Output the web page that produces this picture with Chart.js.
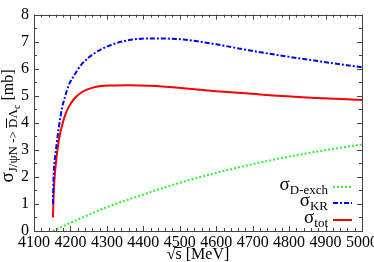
<!DOCTYPE html>
<html>
<head>
<meta charset="utf-8">
<script src="https://cdn.jsdelivr.net/npm/chart.js@4.4.0/dist/chart.umd.min.js"></script>
<style>
  html, body { margin: 0; padding: 0; background: #fff; }
  #wrap { width: 374px; height: 262px; }
</style>
</head>
<body>
<div id="wrap"><canvas id="chart" width="374" height="262"></canvas></div>
<script>
/* valores */
const sqrtS = [4152, 4154, 4159, 4168, 4177, 4186, 4195, 4210, 4230, 4268, 4314, 4359, 4420, 4510, 4600, 4690, 4780, 4875, 5000];
const sigmaKR = [1.0, 2.1, 2.85, 3.82, 4.54, 5.0, 5.38, 5.75, 6.15, 6.59, 6.89, 7.05, 7.12, 7.08, 6.9, 6.68, 6.48, 6.29, 6.05];
const sigmaTot = [0.5, 1.4, 2.37, 3.34, 3.9, 4.3, 4.58, 4.88, 5.12, 5.32, 5.38, 5.39, 5.37, 5.28, 5.17, 5.08, 4.99, 4.92, 4.84];
const sqrtSDexch = [4152, 4200, 4300, 4400, 4500, 4600, 4700, 4800, 4900, 5000];
const sigmaDexch = [0, 0.3, 0.88, 1.35, 1.78, 2.15, 2.47, 2.75, 2.99, 3.2];

const xTicks = [4100, 4200, 4300, 4400, 4500, 4600, 4700, 4800, 4900, 5000];
const yTicks = [0, 1, 2, 3, 4, 5, 6, 7, 8];

const serif = "'Liberation Serif', 'DejaVu Serif', serif";

function pontos(xs, ys) { // monta {x,y}
  return xs.map((v, i) => ({ x: v, y: ys[i] }));
}

const data = {
  datasets: [
    {
      label: "D-exch",
      data: pontos(sqrtSDexch, sigmaDexch),
      borderColor: "#33ee33",
      borderWidth: 2,
      borderDash: [2, 2],
    },
    {
      label: "KR",
      data: pontos(sqrtS, sigmaKR),
      borderColor: "#0000ff",
      borderWidth: 2,
      borderDash: [5, 2, 2, 2],
    },
    {
      label: "tot",
      data: pontos(sqrtS, sigmaTot),
      borderColor: "#ff0000",
      borderWidth: 2,
    },
  ],
};

/* desenha moldura, ticks, titulos e legenda */
const moldura = {
  id: "moldura",
  afterDraw(chart) {
    const ctx = chart.ctx;
    const a = chart.chartArea;
    const x = chart.scales.x, y = chart.scales.y;
    ctx.save();
    ctx.strokeStyle = "#444";
    ctx.lineWidth = 1;
    ctx.strokeRect(Math.round(a.left) + 0.5, Math.round(a.top) + 0.5, Math.round(a.right - a.left), Math.round(a.bottom - a.top));

    ctx.beginPath();
    for (let v = 4100; v <= 5000; v += 20) { // ticks do eixo x
      const px = Math.round(x.getPixelForValue(v)) + 0.5;
      const len = (v % 100 === 0) ? 5 : 3;
      ctx.moveTo(px, a.bottom); ctx.lineTo(px, a.bottom - len);
      ctx.moveTo(px, a.top); ctx.lineTo(px, a.top + len);
    }
    for (let v = 0; v <= 8; v += 0.5) { // ticks do eixo y
      const py = Math.round(y.getPixelForValue(v)) + 0.5;
      const len = (v % 1 === 0) ? 5 : 3;
      ctx.moveTo(a.left, py); ctx.lineTo(a.left + len, py);
      ctx.moveTo(a.right, py); ctx.lineTo(a.right - len, py);
    }
    ctx.stroke();

    ctx.fillStyle = "#000";
    ctx.textBaseline = "alphabetic";

    // titulo do eixo x
    ctx.font = "16px " + serif;
    const t1 = "\u221A", t2 = "s", t3 = " [MeV]";
    const w1 = ctx.measureText(t1).width, w2 = ctx.measureText(t2).width, w3 = ctx.measureText(t3).width;
    let cx = (a.left + a.right) / 2 - (w1 + w2 + w3) / 2;
    const by = 259;
    ctx.textAlign = "left";
    ctx.fillText(t1, cx, by);
    ctx.fillText(t2, cx + w1, by);
    ctx.fillRect(cx + w1 - 1, by - 12, w2 + 1, 1);
    ctx.fillText(t3, cx + w1 + w2, by);

    // titulo do eixo y
    ctx.save();
    ctx.translate(13, 126);
    ctx.rotate(-Math.PI / 2);
    const partes = [
      { t: "\u03C3", f: "19px ", dy: 0 },
      { t: "J/\u03C8N -> ", f: "13px ", dy: 4 },
      { t: "D", f: "13px ", dy: 4, barra: true },
      { t: "\u039B", f: "13px ", dy: 4 },
      { t: "c", f: "10px ", dy: 7 },
      { t: " [mb]", f: "16px ", dy: 0 },
    ];
    let total = 0;
    partes.forEach(p => { ctx.font = p.f + serif; p.w = ctx.measureText(p.t).width; total += p.w; });
    let px = -total / 2;
    partes.forEach(p => {
      ctx.font = p.f + serif;
      ctx.fillText(p.t, px, p.dy);
      if (p.barra) ctx.fillRect(px, p.dy - 11, p.w, 1);
      px += p.w;
    });
    ctx.restore();

    // legenda
    const linhas = [
      { ds: 0, sub: "D-exch", y: 190 },
      { ds: 1, sub: "KR", y: 206 },
      { ds: 2, sub: "tot", y: 223 },
    ];
    linhas.forEach(l => {
      const d = chart.data.datasets[l.ds];
      ctx.font = "13px " + serif;
      const ws = ctx.measureText(l.sub).width;
      ctx.textAlign = "right";
      ctx.fillText(l.sub, 328, l.y + 4);
      ctx.font = "19px " + serif;
      ctx.fillText("\u03C3", 328 - ws, l.y);
      ctx.beginPath();
      ctx.strokeStyle = d.borderColor;
      ctx.lineWidth = d.borderWidth;
      ctx.setLineDash(d.borderDash || []);
      ctx.moveTo(333, l.y - 3);
      ctx.lineTo(352, l.y - 3);
      ctx.stroke();
      ctx.setLineDash([]);
    });
    ctx.restore();
  },
};

const config = {
  type: "line",
  data: data,
  options: {
    responsive: false,
    animation: false,
    layout: { padding: { top: 9, right: 12, left: 0, bottom: 0 } },
    elements: {
      point: { radius: 0 },
      line: { cubicInterpolationMode: "monotone", fill: false },
    },
    plugins: { legend: { display: false }, tooltip: { enabled: false } },
    scales: {
      x: {
        type: "linear",
        min: 4100,
        max: 5000,
        afterBuildTicks: s => { s.ticks = xTicks.map(v => ({ value: v })); },
        afterFit: s => { s.height = 31; s.paddingRight = 12; s.paddingLeft = 0; },
        grid: { display: false, drawTicks: false },
        border: { display: false },
        ticks: { color: "#000", font: { family: serif, size: 16 }, padding: 2, maxRotation: 0, autoSkip: false, callback: v => String(v) },
      },
      y: {
        min: 0,
        max: 8,
        afterBuildTicks: s => { s.ticks = yTicks.map(v => ({ value: v })); },
        afterFit: s => { s.width = 34; },
        grid: { display: false, drawTicks: false },
        border: { display: false },
        ticks: { color: "#000", font: { family: serif, size: 16 }, padding: 5, callback: v => String(v) },
      },
    },
  },
  plugins: [moldura],
};

let myChart = new Chart(document.getElementById("chart"), config);
</script>
</body>
</html>
